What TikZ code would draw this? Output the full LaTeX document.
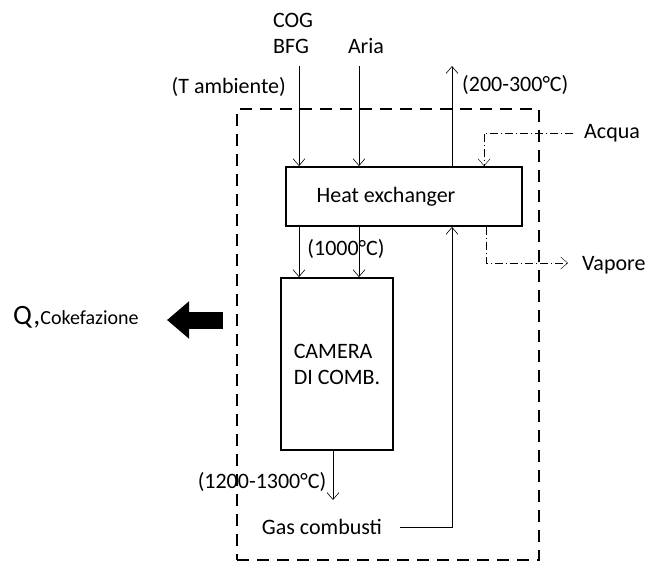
\documentclass[tikz,border=0pt]{standalone}
\usepackage{fontspec}
\setmainfont{Carlito}
\usetikzlibrary{positioning,arrows.meta,calc}

\begin{document}
\begin{tikzpicture}[
  x=1pt,y=-1pt,
  font=\fontsize{22}{26}\selectfont,
  >={Straight Barb[length=7pt,width=12pt]},
  unit/.style={draw,line width=1.8pt,inner sep=0pt,align=left},
  border/.style={draw,line width=2.4pt,dash pattern=on 12pt off 8pt,inner sep=0pt},
  flow/.style={->,semithick},
  water/.style={->,thin,dash pattern=on 8pt off 3pt on 1pt off 3pt},
  lbl/.style={inner sep=1pt},
]
\useasboundingbox (0,0) rectangle (648,563);

% ===== system boundary =====
\node[border,minimum width=302pt,minimum height=451pt] (bound) at (388,334.5) {};

% ===== units =====
\node[unit,minimum width=236pt,minimum height=59pt] (hx) at (404,196.5) {Heat exchanger\hspace*{36pt}};
\node[unit,minimum width=112pt,minimum height=172pt] (cam) at (337,364) {CAMERA\\DI COMB.};

% ===== labels =====
\node[lbl] (cog) at (293,20) {COG};
\node[lbl] (bfg) at (291,46) {BFG};
\node[lbl] (aria) at (366,46) {Aria};
\node[lbl,anchor=east] (tamb) at (287,87) {(T ambiente)};
\node[lbl,anchor=west] (tout) at (461,85) {(200-300°C)};
\node[lbl,anchor=west] (acqua) at (583,133) {Acqua};
\node[lbl,anchor=west] (vapore) at (581,265) {Vapore};
\node[lbl] (t1000) at (346,249) {(1000°C)};
\node[lbl] (t1200) at (262,482) {(1200-1300°C)};
\node[lbl] (gas) at (322,527) {Gas combusti};
\node[lbl,anchor=base west] (qcoke) at (12,324)
  {{\fontsize{28}{32}\selectfont Q,}{\fontsize{20}{23}\selectfont Cokefazione}};

% ===== free ends =====
\coordinate (fuelin) at (299,66);
\coordinate (airin) at (359,66);
\coordinate (fumiout) at (452,66);
\coordinate (acquain) at (573,133);
\coordinate (vapout) at (568,263);
\coordinate (camout) at (333,500);
\coordinate (qfrom) at (223,320);
\coordinate (qto) at (167,320);

% ===== streams =====
\draw[flow] (fuelin) -- (fuelin |- hx.north);
\draw[flow] (airin) -- (airin |- hx.north);
\draw[flow] (fumiout |- hx.north) -- (fumiout);
\draw[flow] (hx.south -| fuelin) -- (cam.north -| fuelin);
\draw[flow] (hx.south -| airin) -- (cam.north -| airin);
\draw[flow] (cam.south -| camout) -- (camout);
\draw[flow] ([xshift=17pt]gas.east) -| (hx.south -| fumiout);
% water / steam
\draw[water] (acquain) -| ($(hx.north west)+(199,0)$);
\draw[water] ($(hx.south west)+(201,0)$) |- (vapout);
% heat to coking
\draw[line width=17pt,-{Triangle[length=22pt,width=36pt]}] (qfrom) -- (qto);
\end{tikzpicture}
\end{document}
